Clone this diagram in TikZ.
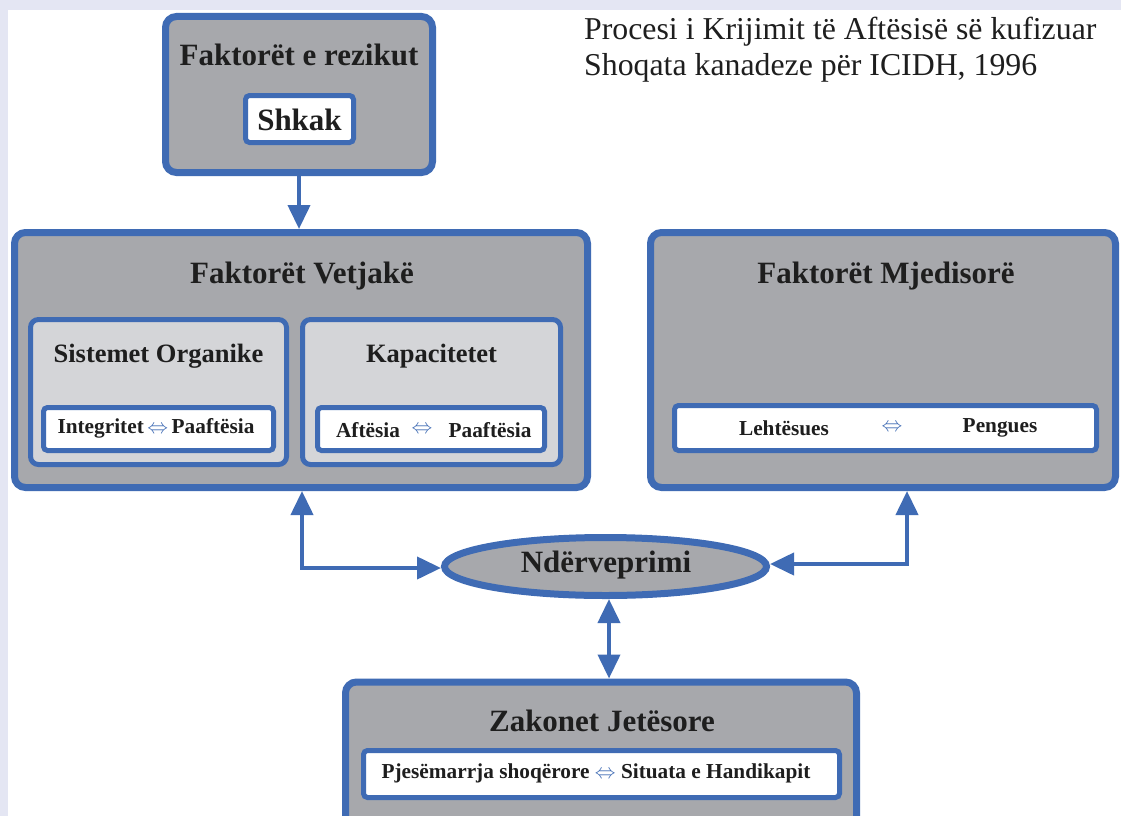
\documentclass[tikz,border=0pt]{standalone}
\usepackage{fontspec}
\setmainfont{Liberation Serif}
\usetikzlibrary{arrows.meta,shapes.geometric}
\definecolor{bblue}{HTML}{3F6BB4}
\definecolor{bgray}{HTML}{A7A8AC}
\definecolor{lgray}{HTML}{D4D5D8}
\definecolor{lav}{HTML}{E4E6F3}
\definecolor{txt}{HTML}{1E1E1E}
\tikzset{
  outerbox/.style={draw=bblue, line width=7pt, fill=bgray, rounded corners=11pt, inner sep=0pt},
  innerbox/.style={draw=bblue, line width=5pt, fill=lgray, rounded corners=8pt, inner sep=0pt},
  whitebox/.style={draw=bblue, line width=5pt, fill=white, rounded corners=4pt, inner sep=0pt},
  ttl/.style={font=\fontsize{31}{36}\selectfont\bfseries, text=txt, inner sep=0pt},
  sub/.style={font=\fontsize{26.5}{30}\selectfont\bfseries, text=txt, inner sep=0pt},
  sml/.style={font=\fontsize{21.3}{25}\selectfont\bfseries, text=txt, inner sep=0pt},
  conn/.style={draw=bblue, line width=4pt},
  tip/.style={-{Triangle[length=24pt,width=22pt]}},
  tips/.style={{Triangle[length=24pt,width=22pt]}-{Triangle[length=24pt,width=22pt]}}
}
\newcommand{\lr}{{\color{bblue}$\Leftrightarrow$}}
\begin{document}
\begin{tikzpicture}[x=1pt,y=-1pt]
\useasboundingbox (0,0) rectangle (1121,816);
\clip (0,0) rectangle (1121,816);
\fill[white] (0,0) rectangle (1121,816);
\fill[lav] (0,0) rectangle (1121,10);
\fill[lav] (0,0) rectangle (8,816);

% heading
\node[anchor=west, font=\fontsize{31.8}{36}\selectfont, text=txt, inner sep=0pt] (h1) at (584,32) {Procesi i Krijimit të Aftësisë së kufizuar};
\node[anchor=west, font=\fontsize{31.8}{36}\selectfont, text=txt, inner sep=0pt] (h2) at (584,68) {Shoqata kanadeze për ICIDH, 1996};

% risk factors
\node[outerbox, minimum width=267pt, minimum height=156pt] (rez) at (299,94.5) {};
\node[ttl] (rezt) at (299,55) {Faktorët e rezikut};
\node[whitebox, minimum width=108pt, minimum height=47pt] (shk) at (299.5,119) {};
\node[ttl] (shkt) at (299.5,120) {Shkak};

% personal factors
\node[outerbox, minimum width=573pt, minimum height=255pt] (vet) at (301,360) {};
\node[ttl] (vett) at (302,276) {Faktorët Vetjakë};
\node[innerbox, minimum width=256pt, minimum height=145pt] (sis) at (158.5,392) {};
\node[sub] (sist) at (158.5,356) {Sistemet Organike};
\node[whitebox, minimum width=230pt, minimum height=43pt] (sisw) at (158.5,429) {};
\node[sml] (sisx) at (156,428) {Integritet\,\lr\,Paaftësia};
\node[innerbox, minimum width=258pt, minimum height=145pt] (kap) at (431.5,392) {};
\node[sub] (kapt) at (431.5,356) {Kapacitetet};
\node[whitebox, minimum width=227pt, minimum height=43pt] (kapw) at (431,429) {};
\node[sml] (kapa) at (368,430) {Aftësia};
\node[sml] (kapb) at (422,430) {\lr};
\node[sml] (kapc) at (490,430) {Paaftësia};

% environmental factors
\node[outerbox, minimum width=465pt, minimum height=255pt] (mje) at (883,360) {};
\node[ttl] (mjet) at (886,276) {Faktorët Mjedisorë};
\node[whitebox, minimum width=422pt, minimum height=45pt] (mjew) at (885.5,428) {};
\node[sml] (mjea) at (784,428) {Lehtësues};
\node[sml] (mjeb) at (892,428) {\lr};
\node[sml] (mjec) at (1000,428) {Pengues};

% interaction
\node[ellipse, draw=bblue, line width=7pt, fill=bgray, minimum width=322pt, minimum height=58pt, inner sep=0pt] (ell) at (605.5,566.5) {};
\node[ttl] (ellt) at (606,565) {Ndërveprimi};

% life habits
\node[outerbox, minimum width=511pt, minimum height=150pt] (zak) at (601,757) {};
\node[ttl] (zakt) at (602,721) {Zakonet Jetësore};
\node[whitebox, minimum width=476pt, minimum height=47pt] (zakw) at (601.5,774) {};
\node[sml] (zakx) at (596,773) {Pjesëmarrja shoqërore \lr\ Situata e Handikapit};

% connectors
\draw[conn, tip] (rez.south) -- (rez.south |- vet.north);
\coordinate (lc) at (302,568);
\draw[conn, tips] (lc |- vet.south) -- (lc) -- (lc -| ell.west);
\coordinate (rc) at (907,564);
\draw[conn, tips] (rc |- mje.south) -- (rc) -- (rc -| ell.east);
\coordinate (mc) at (609,0);
\draw[conn, tips] (mc |- ell.south) -- (mc |- zak.north);
\end{tikzpicture}
\end{document}
